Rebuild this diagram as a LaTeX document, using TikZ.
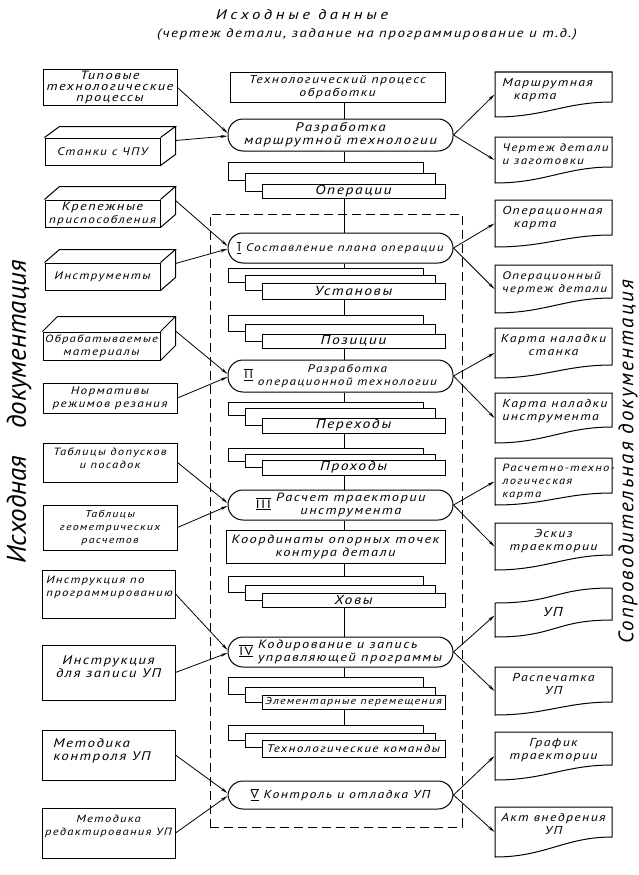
\documentclass[tikz,border=0pt]{standalone}
\usepackage{fontspec}
\setmainfont{PT Sans}[LetterSpace=12,FakeStretch=1.2]
\newfontfamily\tallfont{PT Sans}
\usetikzlibrary{arrows.meta,fit}
\newcommand\rn[1]{$\overline{\underline{\mbox{\upshape #1}}}$}
\newcommand\boxthree[7]{%
 \node[box,fill=white,fit={(#2,#3) (#4,#5)}] (#1) {};
 \draw (#1.north west) -- ++(15,-#6) -- ([shift={(15,-#6)}]#1.north east) -- (#1.north east);
 \draw ([shift={(15,-#6)}]#1.north east) -- ([shift={(15,-#6)}]#1.south east) -- (#1.south east);
 \coordinate (#1-e) at ([shift={(15,-#6)}]#1.east);
 \node[t=11,align=center] (#1-t) at (#1.center) {#7};}
\newcommand\cards[7]{%
 \node[card,fit={(228,#2) (423,#3+7)}] (#1a) {};
 \node[card,fit={(245,#3) (435,#4+7)}] (#1b) {};
 \node[card,fit={(262,#4) (445,#5)}] (#1) {};
 \node[#7] (#1-t) at (#1.center) {#6};}
\newcommand\docu[6]{%
 \node[inner sep=0pt,fit={(495,#2) (612,#3)}] (#1) {};
 \draw (495,#2) -- (612,#2) -- (612,#4) .. controls (565,#4) and (545,#3) .. (495,#3) -- cycle;
 \node[t=11.5,#6] (#1-t) at (#1.north) {#5};}
\begin{document}
\begin{tikzpicture}[x=1pt,y=-1pt,line width=1pt,
 t/.style={font=\fontsize{#1}{13}\selectfont\itshape},
 t/.default=11,
 dl/.style={align=left,anchor=north west,xshift=-55pt,yshift=-3pt},
 dc/.style={align=center,anchor=north,yshift=-3pt},
 card/.style={draw,fill=white,inner sep=0pt},
 box/.style={draw,inner sep=0pt},
 rnode/.style={draw,fill=white,rounded corners=15pt,minimum width=225pt,minimum height=30pt,inner sep=1pt,align=center},
 arr/.style={-{Stealth[length=7pt,width=3pt]},line width=0.8pt}]
\useasboundingbox (0,0) rectangle (639,875);
\fill[white] (0,0) rectangle (639,875);
% title
\node[font=\fontsize{14}{16}\selectfont\itshape\addfontfeature{LetterSpace=25}] (title1) at (302,15) {Исходные данные};
\node[t=12.5] (title2) at (367,34) {(чертеж детали, задание на программирование и т.д.)};
% side labels
\node[font=\tallfont\fontsize{27}{28}\selectfont\itshape,rotate=90] (srcdoc) at (19,412) {Исходная\quad документация};
\node[font=\tallfont\fontsize{21}{22}\selectfont\itshape\addfontfeature{LetterSpace=10},rotate=90] (accdoc) at (628,462) {Сопроводительная документация};
% frame
\node[draw,dash pattern=on 9pt off 5pt,fit={(210,214) (462,827)},inner sep=0pt] (frame) {};
\coordinate (ax) at (344,0);
% centre column
\node[box,fit={(230,72) (445,102)}] (tp) {};
\node[t=11.5,align=center] (tp-t) at (tp.center) {Технологический процесс\\обработки};
\node[rnode,minimum height=32pt,t=12.5] (r0) at (340.5,135) {Разработка\\маршрутной технологии};
\cards{s0}{162}{173}{184}{198}{Операции}{t=13}
\node[rnode,t=11] (r1) at (340.5,248) {\rn{I} Составление плана операции};
\cards{s1}{268}{275}{283}{299}{Установы}{t=13}
\cards{s2}{315}{324}{334}{348}{Позиции}{t=13}
\node[rnode,minimum height=32pt,t=11] (r2) at (340.5,376) {\rn{II}\ \begin{tabular}{@{}c@{}}Разработка\\операционной технологии\end{tabular}};
\cards{s3}{402}{408}{418}{433}{Переходы}{t=13}
\cards{s4}{448}{454}{460}{475}{Проходы}{t=13}
\node[rnode,t=12] (r3) at (340.5,505) {\rn{III}\ \begin{tabular}{@{}c@{}}Расчет траектории\\инструмента\end{tabular}};
\node[box,fit={(226,530) (445,563)}] (ko) {};
\node[t=12,align=center] (ko-t) at (ko.center) {Координаты опорных точек\\контура детали};
\cards{s5}{576}{585}{593}{607}{Ховы}{t=13}
\node[rnode,t=12] (r4) at (340.5,652) {\rn{IV}\ \begin{tabular}{@{}l@{}}Кодирование и запись\\управляющей программы\end{tabular}};
\cards{s6}{677}{687}{695}{709}{Элементарные перемещения}{t=10}
\cards{s7}{725}{733}{740}{757}{Технологические команды}{t=11}
\node[rnode,minimum height=28pt,t=11.5] (r5) at (340.5,795) {\rn{V}\ Контроль и отладка УП};
% vertical links
\foreach \a/\b in {tp/r0,r0/s0a,s0/r1,r1/s1a,s1/s2a,s2/r2,r2/s3a,s3/s4a,s4/r3,r3/ko,ko/s5a,s5/r4,r4/s6a,s6/s7a}
  \draw (\a.south -| ax) -- (\b.north -| ax);
% left column
\node[box,fit={(43,70) (177,105)}] (b1) {};
\node[align=center,font=\fontsize{12}{11}\selectfont\itshape] (b1-t) at (b1.center) {Типовые\\технологические\\процессы};
\boxthree{b2}{45}{138}{160}{165}{11}{\fontsize{11}{13}\selectfont Станки с ЧПУ}
\boxthree{b3}{45}{200}{160}{227}{13}{\fontsize{12}{12.5}\selectfont Крепежные\\приспособления}
\boxthree{b4}{45}{263}{160}{290}{13}{\fontsize{11}{13}\selectfont Инструменты}
\boxthree{b5}{43}{332}{160}{360}{15}{\fontsize{10.5}{12.5}\selectfont Обрабатываемые\\материалы}
\node[box,fit={(43,383) (177,413)}] (b6) {};
\node[t=11,align=center] (b6-t) at (b6.center) {Нормативы\\режимов резания};
\node[box,fit={(43,443) (177,482)}] (b7) {};
\node[t=10.5,align=center,anchor=north] (b7-t) at ([yshift=-2pt]b7.north) {Таблицы допусков\\и посадок};
\node[box,fit={(43,505) (177,550)}] (b8) {};
\node[t=10,align=center] (b8-t) at (b8.center) {Таблицы\\геометрических\\расчетов};
\node[box,fit={(42,570) (175,618)}] (b9) {};
\node[t=10.7,align=left,anchor=north west] (b9-t) at ([shift={(1,3)}]b9.north west) {Инструкция по\\программированию};
\node[box,fit={(42,645) (175,700)}] (b10) {};
\node[t=12.5,align=center,anchor=north] (b10-t) at ([yshift=-7pt]b10.north) {Инструкция\\для записи УП};
\node[box,fit={(42,730) (175,780)}] (b11) {};
\node[t=12.5,align=left,anchor=north west] (b11-t) at ([shift={(8,5)}]b11.north west) {Методика\\контроля УП};
\node[box,fit={(42,808) (175,858)}] (b12) {};
\node[t=10.5,align=center,anchor=north] (b12-t) at ([yshift=-4pt]b12.north) {Методика\\редактирования УП};
% left arrows
\draw[arr] (b1.east) -- ([yshift=2pt]r0.west);
\draw[arr] (b2-e) -- ([yshift=-1pt]r0.west);
\draw[arr] (b3-e) -- ([yshift=2pt]r1.west);
\draw[arr] (b4-e) -- ([yshift=-1pt]r1.west);
\draw[arr] (b5-e) -- ([yshift=2pt]r2.west);
\draw[arr] (b6.east) -- ([yshift=-1pt]r2.west);
\draw[arr] (b7.east) -- ([yshift=2pt]r3.west);
\draw[arr] (b8.east) -- ([yshift=-1pt]r3.west);
\draw[arr] (b9.east) -- ([yshift=2pt]r4.west);
\draw[arr] (b10.east) -- ([yshift=-1pt]r4.west);
\draw[arr] (b11.east) -- ([yshift=2pt]r5.west);
\draw[arr] (b12.east) -- ([yshift=-1pt]r5.west);
% right column
\docu{d1}{72}{117}{102}{Маршрутная\\\quad карта}{dl}
\docu{d2}{137}{183}{167}{Чертеж детали\\и заготовки}{dl,t=11}
\docu{d3}{200}{247}{235}{Операционная\\\quad карта}{dl}
\docu{d4}{265}{313}{298}{Операционный\\чертеж детали}{dl,t=11}
\docu{d5}{328}{378}{365}{Карта наладки\\станка}{dc}
\docu{d6}{393}{443}{427}{Карта наладки\\инструмента}{dl}
\docu{d7}{458}{505}{493}{Расчетно-техно-\\логическая\\карта}{dl,t=10.5}
\docu{d8}{523}{570}{555}{Эскиз\\траектории}{dc}
\node[inner sep=0pt,fit={(495,588) (612,637)}] (d9) {};
\draw (495,603) .. controls (555,603) and (555,588) .. (612,588) -- (612,620) .. controls (555,620) and (555,637) .. (495,637) -- cycle;
\node[t=13] (d9-t) at (553,612) {УП};
\docu{d10}{667}{715}{702}{Распечатка\\УП}{dc}
\docu{d11}{732}{780}{765}{График\\траектории}{dc}
\docu{d12}{807}{857}{837}{Акт внедрения\\УП}{dc}
% right arrows
\draw[arr] (r0.east) -- (d1.west);
\draw[arr] (r0.east) -- (d2.west);
\draw[arr] (r1.east) -- (d3.west);
\draw[arr] (r1.east) -- (d4.west);
\draw[arr] (r2.east) -- (d5.west);
\draw[arr] (r2.east) -- (d6.west);
\draw[arr] (r3.east) -- (d7.west);
\draw[arr] (r3.east) -- (d8.west);
\draw[arr] (r4.east) -- ([yshift=-3pt]d9.west);
\draw[arr] (r4.east) -- (d10.west);
\draw[arr] (r5.east) -- (d11.west);
\draw[arr] (r5.east) -- (d12.west);
\end{tikzpicture}
\end{document}
